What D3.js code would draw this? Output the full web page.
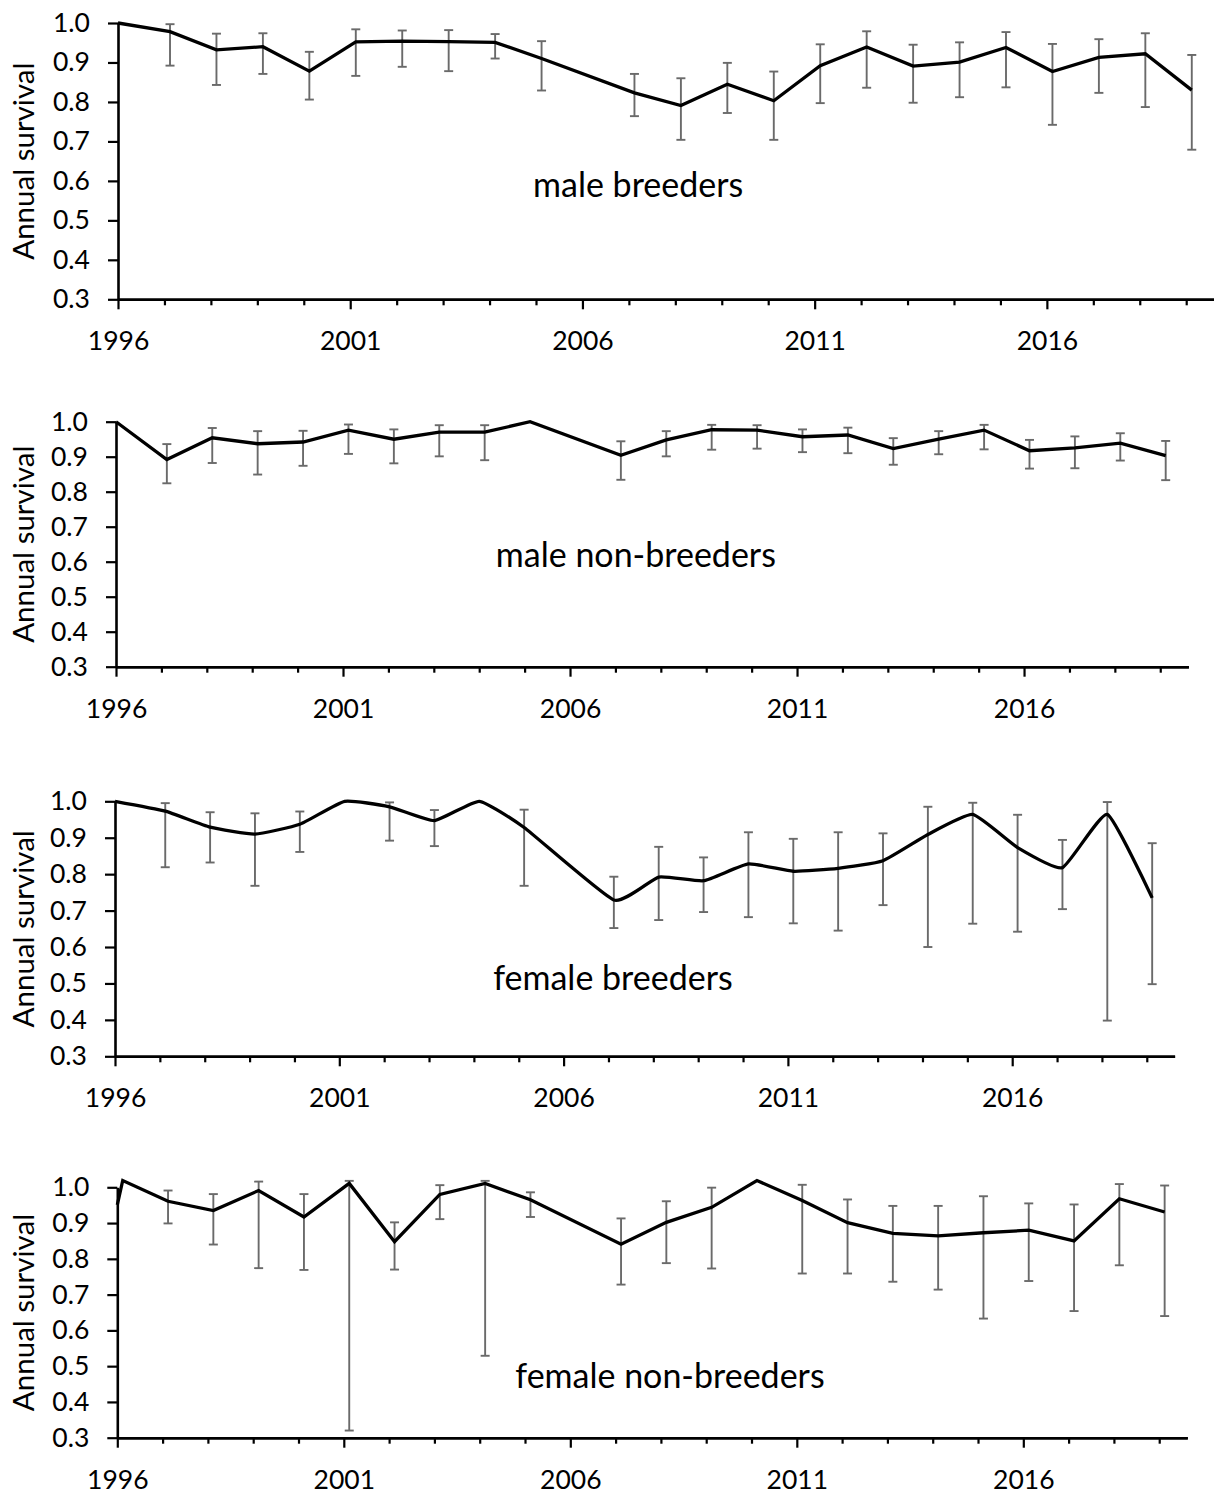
<!DOCTYPE html>
<html>
<head>
<meta charset="utf-8">
<script src="https://cdn.jsdelivr.net/npm/d3@7"></script>
<style>
  html, body { margin: 0; padding: 0; background: #fff; }
  svg { display: block; }
  text { font-family: Lato, "Open Sans", sans-serif; fill: #000; }
</style>
</head>
<body>
<svg id="chart" width="1214" height="1495"></svg>
<script>
// Census dates (decimal years); 2006 has no estimate.
const datesA = [1996.00, 1997.12, 1998.12, 1999.12, 2000.12, 2001.12, 2002.12, 2003.12, 2004.12, 2005.12,
                2007.12, 2008.12, 2009.12, 2010.12, 2011.12, 2012.12, 2013.12, 2014.12, 2015.12,
                2016.12, 2017.12, 2018.12, 2019.12];
const datesB = [1996.00, 1996.12, 1997.12, 1998.12, 1999.12, 2000.12, 2001.12, 2002.12, 2003.12, 2004.12, 2005.12,
                2007.12, 2008.12, 2009.12, 2010.12, 2011.12, 2012.12, 2013.12, 2014.12, 2015.12,
                2016.12, 2017.12, 2018.12, 2019.12];

// Male breeders: estimate and 95% CI (null = no interval)
const survMaleBreed = [1.000, 0.978, 0.932, 0.940, 0.878, 0.952, 0.954, 0.953, 0.951, 0.910,
                       0.823, 0.791, 0.845, 0.803, 0.892, 0.939, 0.891, 0.901, 0.938, 0.877, 0.913, 0.922, 0.830];
const loMaleBreed   = [null, 0.892, 0.843, 0.871, 0.806, 0.866, 0.889, 0.878, 0.910, 0.829,
                       0.764, 0.704, 0.772, 0.704, 0.797, 0.836, 0.798, 0.812, 0.837, 0.742, 0.823, 0.787, 0.679];
const hiMaleBreed   = [null, 0.997, 0.973, 0.974, 0.927, 0.984, 0.981, 0.982, 0.972, 0.954,
                       0.871, 0.860, 0.899, 0.877, 0.946, 0.979, 0.945, 0.951, 0.977, 0.947, 0.959, 0.974, 0.919];

// Male non-breeders
const survMaleNon = [1.000, 0.892, 0.954, 0.937, 0.942, 0.976, 0.950, 0.970, 0.970, 1.000,
                     0.904, 0.948, 0.977, 0.976, 0.957, 0.962, 0.923, 0.950, 0.976, 0.917, 0.925, 0.939, 0.903];
const loMaleNon   = [null, 0.824, 0.882, 0.849, 0.874, 0.908, 0.881, 0.901, 0.890, null,
                     0.834, 0.901, 0.920, 0.923, 0.913, 0.910, 0.877, 0.907, 0.921, 0.866, 0.867, 0.889, 0.833];
const hiMaleNon   = [null, 0.936, 0.982, 0.973, 0.974, 0.992, 0.978, 0.990, 0.990, null,
                     0.944, 0.973, 0.991, 0.990, 0.978, 0.983, 0.953, 0.973, 0.991, 0.948, 0.958, 0.967, 0.945];

// Female breeders
const survFemBreed = [1.000, 0.973, 0.929, 0.910, 0.937, 1.000, 0.985, 0.947, 1.000, 0.928,
                      0.729, 0.792, 0.782, 0.828, 0.808, 0.816, 0.837, 0.909, 0.964, 0.873, 0.818, 0.964, 0.735];
const loFemBreed   = [null, 0.819, 0.832, 0.768, 0.861, null, 0.892, 0.877, null, 0.768,
                      0.652, 0.674, 0.696, 0.682, 0.665, 0.645, 0.715, 0.600, 0.664, 0.642, 0.704, 0.398, 0.498];
const hiFemBreed   = [null, 0.995, 0.970, 0.967, 0.972, null, 0.997, 0.976, null, 0.977,
                      0.793, 0.875, 0.846, 0.915, 0.897, 0.915, 0.912, 0.985, 0.996, 0.963, 0.894, 0.998, 0.885];

// Female non-breeders
const survFemNon = [0.951, 1.019, 0.961, 0.935, 0.991, 0.917, 1.011, 0.848, 0.980, 1.011, 0.965,
                    0.841, 0.902, 0.944, 1.019, 0.963, 0.901, 0.871, 0.864, 0.873, 0.880, 0.850, 0.968, 0.931];
const loFemNon   = [null, null, 0.899, 0.840, 0.774, 0.769, 0.320, 0.770, 0.911, 0.529, 0.917,
                    0.728, 0.788, 0.773, null, 0.759, 0.759, 0.736, 0.714, 0.633, 0.738, 0.654, 0.782, 0.640];
const hiFemNon   = [null, null, 0.991, 0.981, 1.016, 0.981, 1.018, 0.902, 1.006, 1.018, 0.986,
                    0.913, 0.961, 0.999, null, 1.007, 0.966, 0.948, 0.948, 0.975, 0.955, 0.952, 1.009, 1.005];

// Axis ticks
const yTicks = [0.3, 0.4, 0.5, 0.6, 0.7, 0.8, 0.9, 1.0];
const xMajorTicks = [1996, 2001, 2006, 2011, 2016];
const xMinorTicks = [1997, 1998, 1999, 2000, 2002, 2003, 2004, 2005, 2007, 2008, 2009, 2010,
                     2012, 2013, 2014, 2015, 2017, 2018, 2019];
const xDomain = [1996, 2019.62];
const yDomain = [0.3, 1.0];

const panelLabels = ["male breeders", "male non-breeders", "female breeders", "female non-breeders"];

// Panel frames (pixels) and label anchors (data units)
const panels = [
  { name: panelLabels[0], dates: datesA, surv: survMaleBreed, lo: loMaleBreed, hi: hiMaleBreed,
    smooth: false, left: 118, right: 1215, top: 23, bottom: 299.3, labelAt: [2007.2, 0.56] },
  { name: panelLabels[1], dates: datesA, surv: survMaleNon, lo: loMaleNon, hi: hiMaleNon,
    smooth: false, left: 116, right: 1188.4, top: 421.7, bottom: 666.7, labelAt: [2007.45, 0.586] },
  { name: panelLabels[2], dates: datesA, surv: survFemBreed, lo: loFemBreed, hi: hiFemBreed,
    smooth: true, left: 115, right: 1174.6, top: 801.3, bottom: 1056.3, labelAt: [2007.1, 0.482] },
  { name: panelLabels[3], dates: datesB, surv: survFemNon, lo: loFemNon, hi: hiFemNon,
    smooth: false, left: 117.3, right: 1187.3, top: 1187.3, bottom: 1437.7, labelAt: [2008.2, 0.438] }
];

const svg = d3.select("#chart");
const TICK_FONT = 26.5;
const TITLE_FONT = 29.5;
const LABEL_FONT = 34;

panels.forEach(p => {
  const x = d3.scaleLinear().domain(xDomain).range([p.left, p.right]);
  const y = d3.scaleLinear().domain(yDomain).range([p.bottom, p.top]);
  const g = svg.append("g");

  const rows = p.dates.map((d, i) => ({ t: d, v: p.surv[i], lo: p.lo[i], hi: p.hi[i] }));

  // Y axis
  const ya = g.append("g")
    .attr("transform", `translate(${p.left},0)`)
    .call(d3.axisLeft(y).tickValues(yTicks).tickFormat(d3.format(".1f"))
      .tickSize(10).tickSizeOuter(0).tickPadding(18));
  ya.selectAll("text").attr("font-size", TICK_FONT).attr("font-family", "Lato");

  // X axis: minor yearly ticks, then labelled ticks every five years
  const xMinor = g.append("g")
    .attr("transform", `translate(0,${p.bottom})`)
    .call(d3.axisBottom(x).tickValues(xMinorTicks).tickFormat("").tickSize(6).tickSizeOuter(0));
  const xa = g.append("g")
    .attr("transform", `translate(0,${p.bottom})`)
    .call(d3.axisBottom(x).tickValues(xMajorTicks).tickFormat(d3.format("d"))
      .tickSize(10).tickSizeOuter(0).tickPadding(22));
  xa.selectAll("text").attr("font-size", TICK_FONT).attr("font-family", "Lato");

  [ya, xMinor, xa].forEach(a => {
    a.select(".domain").attr("stroke", "#000").attr("stroke-width", 2.6);
    a.selectAll(".tick line").attr("stroke", "#000").attr("stroke-width", 2.2);
  });

  // Y axis title
  g.append("text")
    .attr("transform", `translate(22,${(p.top + p.bottom) / 2}) rotate(-90)`)
    .attr("text-anchor", "middle")
    .attr("dominant-baseline", "central")
    .attr("font-size", TITLE_FONT)
    .text("Annual survival");

  // Error bars
  const eb = g.append("g").attr("stroke", "#6a6a6a").attr("stroke-width", 1.9).attr("fill", "none");
  const withCI = rows.filter(r => r.lo !== null && r.hi !== null);
  eb.selectAll("line.stem").data(withCI).join("line").attr("class", "stem")
    .attr("x1", r => x(r.t)).attr("x2", r => x(r.t))
    .attr("y1", r => y(r.lo)).attr("y2", r => y(r.hi));
  eb.selectAll("line.capHi").data(withCI).join("line").attr("class", "capHi")
    .attr("x1", r => x(r.t) - 4.5).attr("x2", r => x(r.t) + 4.5)
    .attr("y1", r => y(r.hi)).attr("y2", r => y(r.hi));
  eb.selectAll("line.capLo").data(withCI).join("line").attr("class", "capLo")
    .attr("x1", r => x(r.t) - 4.5).attr("x2", r => x(r.t) + 4.5)
    .attr("y1", r => y(r.lo)).attr("y2", r => y(r.lo));

  // Survival line (female breeders drawn as a lightly smoothed line)
  const line = d3.line()
    .x(r => x(r.t)).y(r => y(r.v))
    .curve(p.smooth ? d3.curveCardinal.tension(0.55) : d3.curveLinear);
  g.append("path").datum(rows)
    .attr("d", line)
    .attr("fill", "none")
    .attr("stroke", "#000")
    .attr("stroke-width", 3.3)
    .attr("stroke-linejoin", "miter");

  // Panel label
  g.append("text")
    .attr("x", x(p.labelAt[0]))
    .attr("y", y(p.labelAt[1]))
    .attr("text-anchor", "middle")
    .attr("font-size", LABEL_FONT)
    .text(p.name);
});
</script>
</body>
</html>
